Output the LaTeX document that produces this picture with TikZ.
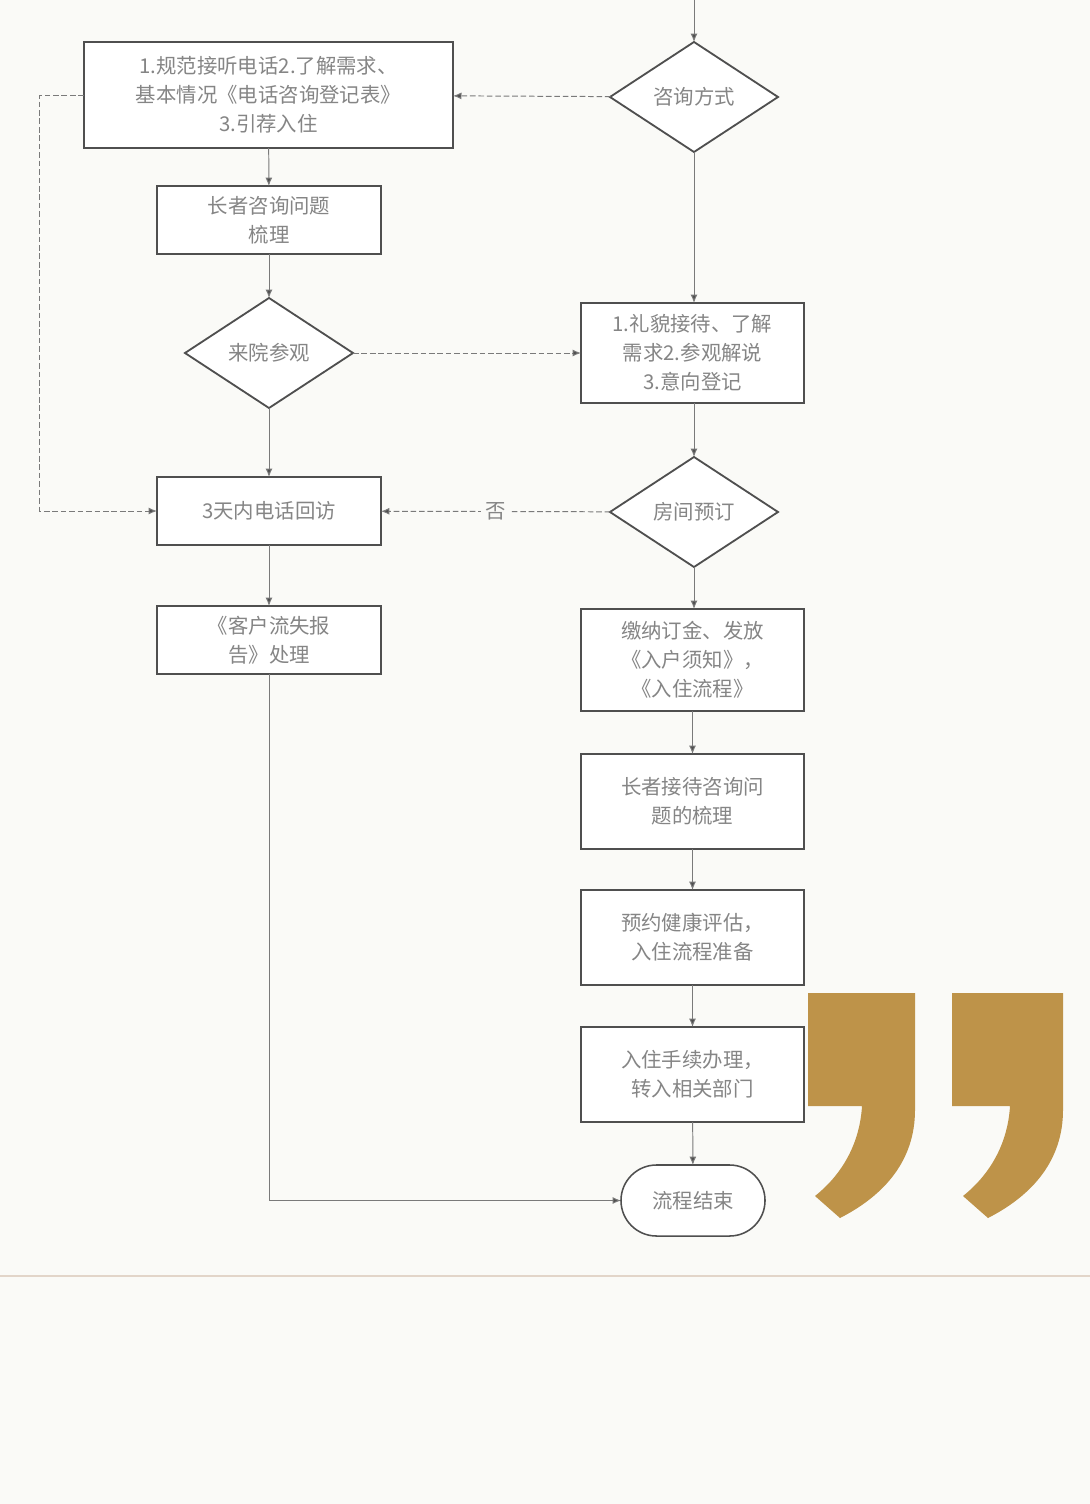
\documentclass[tikz,border=0pt]{standalone}
\usepackage{fontspec}
\newfontfamily\cjk{Noto Sans CJK SC}
\usetikzlibrary{shapes.geometric,shapes.misc,arrows.meta}
\definecolor{bgcol}{HTML}{FAFAF7}
\definecolor{edgecol}{HTML}{4F4F4F}
\definecolor{txtcol}{HTML}{858585}
\definecolor{linecol}{HTML}{7A7A7A}
\definecolor{gold}{HTML}{BE9349}
\definecolor{rulecol}{HTML}{E2D5C9}
\begin{document}
\begin{tikzpicture}[
  x=0.025cm, y=-0.025cm,
  box/.style={rectangle, draw=edgecol, line width=1.3pt, fill=white, align=center,
    text=txtcol, font=\cjk\fontsize{14.5}{20.5}\selectfont, inner sep=0pt, outer sep=0pt,
    minimum width=5.6cm},
  choice/.style={diamond, draw=edgecol, line width=1.3pt, fill=white, aspect=1.5,
    text=txtcol, font=\cjk\fontsize{14.5}{20.5}\selectfont, inner sep=0pt, outer sep=0pt,
    minimum width=4.2cm, minimum height=2.75cm},
  stopnode/.style={rounded rectangle, draw=edgecol, line width=1.1pt, fill=white,
    text=txtcol, font=\cjk\fontsize{14.5}{20.5}\selectfont, inner sep=0pt, outer sep=0pt,
    minimum width=3.6cm, minimum height=1.775cm},
  link/.style={draw=linecol, line width=0.7pt, -{Latex[length=6pt,width=5pt,fill=edgecol]}},
  dlink/.style={link, dash pattern=on 4pt off 2pt}
]
  \useasboundingbox (0,0) rectangle (1090,1504);
  \fill[bgcol] (0,0) rectangle (1090,1504);
  \draw[rulecol, line width=2pt] (0,1276) -- (1090,1276);

  % quote marks
  \fill[gold] (808,993) -- (915,993) -- (915,1110)
    .. controls (915,1160) and (885,1195) .. (840,1218) -- (815,1196)
    .. controls (845,1172) and (860,1140) .. (862,1106) -- (808,1106) -- cycle;
  \fill[gold] (952,993) -- (1063,993) -- (1063,1110)
    .. controls (1063,1160) and (1033,1195) .. (988,1218) -- (963,1196)
    .. controls (993,1172) and (1008,1140) .. (1010,1106) -- (952,1106) -- cycle;

  \coordinate (top) at (694,0);
  \node[choice] (way) at (694,97) {咨询方式};
  \node[box, minimum width=9.225cm, minimum height=2.65cm] (phone) at (268.5,95)
    {1.规范接听电话2.了解需求、\\基本情况《电话咨询登记表》\\3.引荐入住};
  \node[box, minimum height=1.7cm] (sort) at (269,220) {长者咨询问题\\梳理};
  \node[choice] (visit) at (269,353) {来院参观};
  \node[box, minimum width=5.575cm, minimum height=2.5cm] (greet) at (692.5,353)
    {1.礼貌接待、了解\\需求2.参观解说\\3.意向登记};
  \node[box, minimum height=1.7cm] (call) at (269,511) {3天内电话回访};
  \node[choice] (book) at (694,512) {房间预订};
  \node[box, minimum height=1.7cm] (lost) at (269,640) {《客户流失报\\告》处理};
  \node[box, minimum width=5.575cm, minimum height=2.55cm] (pay) at (692.5,660)
    {缴纳订金、发放\\《入户须知》，\\《入住流程》};
  \node[box, minimum width=5.575cm, minimum height=2.375cm] (serve) at (692.5,801.5)
    {长者接待咨询问\\题的梳理};
  \node[box, minimum width=5.575cm, minimum height=2.375cm] (check) at (692.5,937.5)
    {预约健康评估，\\入住流程准备};
  \node[box, minimum width=5.575cm, minimum height=2.375cm] (admit) at (692.5,1074.5)
    {入住手续办理，\\转入相关部门};
  \node[stopnode] (end) at (693,1200.5) {流程结束};

  \draw[link] (top) -- (way);
  \draw[dlink] (way) -- (phone);
  \draw[link] (phone) -- (sort);
  \draw[link] (sort) -- (visit);
  \draw[dlink] (visit) -- (greet);
  \draw[link] (way) -- (greet.north -| way);
  \draw[link] (visit) -- (call);
  \draw[link] (greet.south -| book) -- (book);
  \draw[dlink] (book) -- node[fill=bgcol, text=txtcol, font=\cjk\fontsize{14.5}{20.5}\selectfont,
    inner sep=3pt] {否} (call);
  \draw[dlink] (phone.west) -- ++(-44,0) |- (call.west);
  \draw[link] (call) -- (lost);
  \draw[link] (book) -- (pay.north -| book);
  \draw[link] (pay) -- (serve);
  \draw[link] (serve) -- (check);
  \draw[link] (check) -- (admit);
  \draw[link] (admit) -- (end);
  \draw[link] (lost.south) |- (end.west);
\end{tikzpicture}
\end{document}
